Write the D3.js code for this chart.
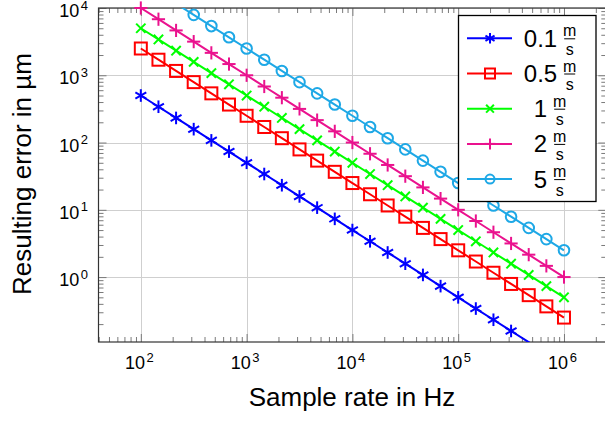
<html lang='en'>
<head>
<meta charset='utf-8'>
<title>Resulting error vs sample rate</title>
<script src="https://d3js.org/d3.v7.min.js"></script>
<style>
  body { margin: 0; background: #fff; }
  text { font-family: "Liberation Sans", Arial, Helvetica, sans-serif; fill: #000; }
</style>
</head>
<body>
<script>
// sample rates in Hz (6 points per decade)
var rates = [100, 146.8, 215.4, 316.2, 464.2, 681.3,
             1000, 1468, 2154, 3162, 4642, 6813,
             10000, 14680, 21540, 31620, 46420, 68130,
             100000, 146800, 215400, 316200, 464200, 681300, 1000000];

// resulting error in µm for each speed
var err01 = [500, 340.6, 232.1, 158.1, 107.7, 73.39, 50, 34.06, 23.21, 15.81, 10.77, 7.339,
             5, 3.406, 2.321, 1.581, 1.077, 0.7339, 0.5, 0.3406, 0.2321, 0.1581, 0.1077, 0.07339, 0.05];
var err05 = [2500, 1703, 1160, 790.6, 538.6, 367.0, 250, 170.3, 116.0, 79.06, 53.86, 36.70,
             25, 17.03, 11.60, 7.906, 5.386, 3.670, 2.5, 1.703, 1.160, 0.7906, 0.5386, 0.3670, 0.25];
var err1  = [5000, 3406, 2321, 1581, 1077, 733.9, 500, 340.6, 232.1, 158.1, 107.7, 73.39,
             50, 34.06, 23.21, 15.81, 10.77, 7.339, 5, 3.406, 2.321, 1.581, 1.077, 0.7339, 0.5];
var err2  = [10000, 6813, 4642, 3162, 2154, 1468, 1000, 681.3, 464.2, 316.2, 215.4, 146.8,
             100, 68.13, 46.42, 31.62, 21.54, 14.68, 10, 6.813, 4.642, 3.162, 2.154, 1.468, 1];
var err5  = [25000, 17030, 11600, 7906, 5386, 3670, 2500, 1703, 1160, 790.6, 538.6, 367.0,
             250, 170.3, 116.0, 79.06, 53.86, 36.70, 25, 17.03, 11.60, 7.906, 5.386, 3.670, 2.5];

var speedLabels = ["0.1", "0.5", "1", "2", "5"];
var xTickExps = [2, 3, 4, 5, 6];
var yTickExps = [0, 1, 2, 3, 4];

var series = [
  {name: speedLabels[0], values: err01, color: "#0000ff", mark: "asterisk"},
  {name: speedLabels[1], values: err05, color: "#ff0000", mark: "square"},
  {name: speedLabels[2], values: err1,  color: "#00ff00", mark: "x"},
  {name: speedLabels[3], values: err2,  color: "#ea128e", mark: "plus"},
  {name: speedLabels[4], values: err5,  color: "#1ea8e6", mark: "circle"}
];

var width = 605, height = 421;
var plot = {left: 98.5, right: 606.3, top: 8, bottom: 342};

var x = d3.scaleLog().domain([Math.pow(10, 1.6), Math.pow(10, 6.4)]).range([plot.left, plot.right]);
var y = d3.scaleLog().domain([Math.pow(10, -0.965), 1e4]).range([plot.bottom, plot.top]);

var svg = d3.select("body").append("svg")
  .attr("width", width)
  .attr("height", height)
  .style("display", "block");

svg.append("rect").attr("width", width).attr("height", height).attr("fill", "#fff");

svg.append("defs").append("clipPath").attr("id", "clip")
  .append("rect")
  .attr("x", plot.left).attr("y", plot.top)
  .attr("width", plot.right - plot.left).attr("height", plot.bottom - plot.top);

// tick values
var xMajor = xTickExps.map(function(e) { return Math.pow(10, e); });
var yMajor = yTickExps.map(function(e) { return Math.pow(10, e); });
var xMinor = [], yMinor = [];
for (var n = 1; n <= 6; n++) {
  for (var m = 2; m <= 9; m++) {
    var v = m * Math.pow(10, n);
    if (v > x.domain()[0] && v < x.domain()[1]) xMinor.push(v);
  }
}
for (var n = -1; n <= 3; n++) {
  for (var m = 2; m <= 9; m++) {
    var v = m * Math.pow(10, n);
    if (v > y.domain()[0] && v < y.domain()[1]) yMinor.push(v);
  }
}

// grid
var grid = svg.append("g").attr("stroke", "#cfcfcf").attr("stroke-width", 1);
grid.selectAll(".gx").data(xMajor).enter().append("line")
  .attr("x1", function(d) { return Math.round(x(d)) + 0.5; })
  .attr("x2", function(d) { return Math.round(x(d)) + 0.5; })
  .attr("y1", plot.top).attr("y2", plot.bottom);
grid.selectAll(".gy").data(yMajor).enter().append("line")
  .attr("y1", function(d) { return Math.round(y(d)) + 0.5; })
  .attr("y2", function(d) { return Math.round(y(d)) + 0.5; })
  .attr("x1", plot.left).attr("x2", plot.right);

// ticks on all four sides, pointing inwards
function tickAxis(axisFn, scale, vals, size, transform) {
  var g = svg.append("g")
    .attr("transform", transform)
    .call(axisFn(scale).tickValues(vals).tickSize(size).tickSizeOuter(0).tickFormat(""));
  g.select(".domain").remove();
  g.selectAll(".tick line").attr("stroke", "#7a7a7a").attr("stroke-width", 1);
  return g;
}
tickAxis(d3.axisBottom, x, xMinor, -5, "translate(0," + plot.bottom + ")");
tickAxis(d3.axisBottom, x, xMajor, -8, "translate(0," + plot.bottom + ")");
tickAxis(d3.axisTop, x, xMinor, -5, "translate(0," + plot.top + ")");
tickAxis(d3.axisTop, x, xMajor, -8, "translate(0," + plot.top + ")");
tickAxis(d3.axisLeft, y, yMinor, -5, "translate(" + plot.left + ",0)");
tickAxis(d3.axisLeft, y, yMajor, -8, "translate(" + plot.left + ",0)");
tickAxis(d3.axisRight, y, yMinor, -5, "translate(" + plot.right + ",0)");
tickAxis(d3.axisRight, y, yMajor, -8, "translate(" + plot.right + ",0)");

// frame
svg.append("rect")
  .attr("x", plot.left).attr("y", plot.top)
  .attr("width", plot.right - plot.left).attr("height", plot.bottom - plot.top)
  .attr("fill", "none").attr("stroke", "#333").attr("stroke-width", 1.2);

// tick labels 10^n
function powLabel(sel) {
  sel.append("tspan").text("10");
  sel.append("tspan").attr("dy", -7.5).attr("dx", 1.5).attr("font-size", 13).text(function(d) { return d; });
}
svg.append("g").selectAll("text").data(xTickExps).enter().append("text")
  .attr("x", function(d) { return x(Math.pow(10, d)) - 1.5; })
  .attr("y", 369)
  .attr("text-anchor", "middle")
  .attr("font-size", 18)
  .call(powLabel);
svg.append("g").selectAll("text").data(yTickExps).enter().append("text")
  .attr("x", 88)
  .attr("y", function(d) { return y(Math.pow(10, d)) + 9; })
  .attr("text-anchor", "end")
  .attr("font-size", 18)
  .call(powLabel);

// axis titles
svg.append("text")
  .attr("x", 352).attr("y", 406)
  .attr("text-anchor", "middle")
  .attr("font-size", 26)
  .text("Sample rate in Hz");
svg.append("text")
  .attr("transform", "translate(31,174) rotate(-90)")
  .attr("text-anchor", "middle")
  .attr("font-size", 26)
  .text("Resulting error in µm");

// markers
function drawMark(g, type, color, s) {
  if (type === "square") {
    g.append("rect").attr("x", -s).attr("y", -s).attr("width", 2 * s).attr("height", 2 * s)
      .attr("fill", "none").attr("stroke", color).attr("stroke-width", 2);
  } else if (type === "circle") {
    g.append("circle").attr("r", s).attr("fill", "none").attr("stroke", color).attr("stroke-width", 2);
  } else {
    var angles = type === "plus" ? [0, 90] : type === "x" ? [45, 135] : [90, 210, 330];
    var len = type === "asterisk" ? s * 1.05 : s * 1.1;
    angles.forEach(function(a) {
      var r = a * Math.PI / 180;
      var dx = Math.cos(r) * len, dy = Math.sin(r) * len;
      g.append("line")
        .attr("x1", -dx).attr("y1", dy)
        .attr("x2", dx).attr("y2", -dy)
        .attr("stroke", color).attr("stroke-width", 2);
    });
  }
}

var line = d3.line()
  .x(function(d) { return x(d[0]); })
  .y(function(d) { return y(d[1]); });

var dataLayer = svg.append("g");
series.forEach(function(s) {
  var pts = rates.map(function(r, i) { return [r, s.values[i]]; });
  dataLayer.append("path")
    .datum(pts)
    .attr("clip-path", "url(#clip)")
    .attr("fill", "none")
    .attr("stroke", s.color)
    .attr("stroke-width", 2)
    .attr("d", line);
  var visible = pts.filter(function(p) { return p[1] <= 1e4 * 1.001 && p[1] >= y.domain()[0]; });
  dataLayer.selectAll(null).data(visible).enter().append("g")
    .attr("transform", function(p) { return "translate(" + x(p[0]) + "," + y(p[1]) + ")"; })
    .each(function() { drawMark(d3.select(this), s.mark, s.color, s.mark === "circle" ? 5.3 : 6); });
});

// legend
var legend = svg.append("g");
legend.append("rect")
  .attr("x", 458.5).attr("y", 15.5).attr("width", 137.5).attr("height", 186)
  .attr("fill", "#fff").attr("stroke", "#000").attr("stroke-width", 1.3);

series.forEach(function(s, i) {
  var cy = 38.3 + i * 35.2;
  var row = legend.append("g");
  row.append("line").attr("x1", 467).attr("x2", 512).attr("y1", cy).attr("y2", cy)
    .attr("stroke", s.color).attr("stroke-width", 2);
  var mk = row.append("g").attr("transform", "translate(490," + cy + ")");
  drawMark(mk, s.mark, s.color, s.mark === "circle" ? 4.5 : 5);

  var num = row.append("text").attr("y", cy + 8.5).attr("font-size", 24).text(s.name);
  var numW = num.node().getComputedTextLength();
  var fracW = 11, gap = 7;
  var start = 549.5 - (numW + gap + fracW) / 2;
  num.attr("x", start);
  var fx = start + numW + gap + fracW / 2;
  row.append("text").attr("x", fx).attr("y", cy - 2).attr("text-anchor", "middle")
    .attr("font-size", 16).text("m");
  row.append("line").attr("x1", fx - fracW / 2).attr("x2", fx + fracW / 2)
    .attr("y1", cy + 0.5).attr("y2", cy + 0.5).attr("stroke", "#000").attr("stroke-width", 1);
  row.append("text").attr("x", fx).attr("y", cy + 16.5).attr("text-anchor", "middle")
    .attr("font-size", 16).text("s");
});
</script>
</body>
</html>
